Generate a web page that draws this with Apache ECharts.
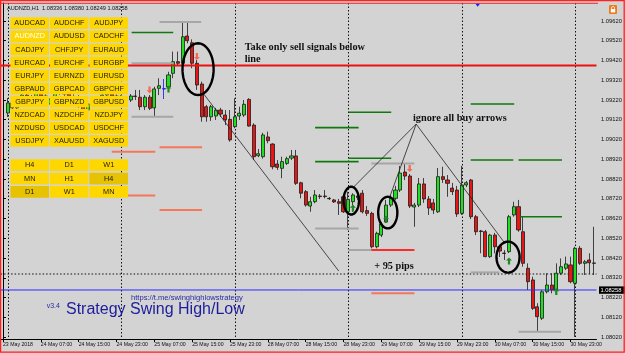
<!DOCTYPE html>
<html><head><meta charset="utf-8">
<script src="https://cdn.jsdelivr.net/npm/echarts@6/dist/echarts.min.js"></script>
<style>html,body{margin:0;padding:0;background:#d3d3d3;overflow:hidden}#chart{width:625px;height:353px}</style>
</head><body><div id="chart"></div>
<script>
// ---------- DATA ----------
const days = ['24','25','28','29','30','31'];
const barsPerDay = [24,24,24,24,24,5];
const categories = ['23 May 2018'];
days.forEach((d,k)=>{ for(let h=0;h<barsPerDay[k];h++) categories.push(d+' May '+String(h).padStart(2,'0')+':00'); });

const xTickLabels = ['23 May 2018','24 May 07:00','24 May 15:00','24 May 23:00','25 May 07:00','25 May 15:00','25 May 23:00',
  '28 May 07:00','28 May 15:00','28 May 23:00','29 May 07:00','29 May 15:00','29 May 23:00','30 May 07:00','30 May 15:00','30 May 23:00'];
const yTicks = [1.0802,1.0812,1.0822,1.0832,1.0842,1.0852,1.0862,1.0872,1.0882,1.0892,1.0902,1.0912,1.0922,1.0932,1.0942,1.0952,1.0962];

const open = [1.09154,1.09205,1.09180,1.09220,1.09245,1.09210,1.09230,1.09260,1.09240,1.09200,
1.09225,1.09255,1.09281,1.09250,1.09220,1.09235,1.09195,1.09169,1.09200,1.09225,
1.09215,1.09245,1.09266,1.09240,1.09210,1.09230,1.09220,1.09240,1.09234,1.09186,
1.09234,1.09180,1.09279,1.09276,1.09287,1.09355,1.09414,1.09406,1.09544,1.09510,
1.09406,1.09301,1.09186,1.09135,1.09139,1.09169,1.09144,1.09122,1.09085,1.09139,
1.09144,1.09223,1.09093,1.08938,1.08933,1.09033,1.08997,1.08896,1.08874,1.08899,
1.08926,1.08937,1.08801,1.08756,1.08683,1.08705,1.08734,1.08734,1.08722,1.08714,
1.08705,1.08730,1.08654,1.08705,1.08734,1.08748,1.08660,1.08646,1.08477,1.08536,
1.08602,1.08688,1.08722,1.08764,1.08855,1.08835,1.08678,1.08688,1.08795,1.08719,
1.08699,1.08654,1.08832,1.08815,1.08774,1.08764,1.08646,1.08790,1.08815,1.08629,
1.08557,1.08553,1.08427,1.08536,1.08477,1.08445,1.08452,1.08638,1.08680,1.08553,
1.08368,1.08309,1.08173,1.08115,1.08249,1.08283,1.08258,1.08343,1.08368,1.08385,
1.08292,1.08469,1.08393,1.08410,1.08395];
const high = [1.09230,1.09220,1.09235,1.09260,1.09255,1.09245,1.09281,1.09276,1.09250,1.09240,
1.09271,1.09301,1.09291,1.09260,1.09250,1.09245,1.09205,1.09215,1.09240,1.09235,
1.09255,1.09281,1.09276,1.09250,1.09245,1.09240,1.09250,1.09271,1.09271,1.09245,
1.09245,1.09287,1.09330,1.09326,1.09363,1.09465,1.09465,1.09611,1.09611,1.09527,
1.09423,1.09313,1.09195,1.09195,1.09180,1.09180,1.09169,1.09169,1.09229,1.09186,
1.09220,1.09229,1.09102,1.08972,1.09054,1.09060,1.09001,1.08916,1.08933,1.08933,
1.08967,1.08967,1.08806,1.08764,1.08730,1.08764,1.08744,1.08764,1.08729,1.08719,
1.08719,1.08739,1.08756,1.08748,1.08754,1.08764,1.08683,1.08654,1.08553,1.08602,
1.08714,1.08739,1.08785,1.08886,1.08899,1.08845,1.08699,1.08825,1.08825,1.08734,
1.08719,1.08876,1.08882,1.08840,1.08800,1.08785,1.08886,1.08810,1.08820,1.08638,
1.08562,1.08562,1.08542,1.08547,1.08486,1.08460,1.08638,1.08705,1.08714,1.08629,
1.08393,1.08325,1.08191,1.08258,1.08343,1.08343,1.08393,1.08418,1.08427,1.08427,
1.08477,1.08481,1.08410,1.08444,1.08578];
const low = [1.09134,1.09159,1.09169,1.09205,1.09190,1.09200,1.09220,1.09225,1.09185,1.09190,
1.09215,1.09245,1.09235,1.09205,1.09210,1.09180,1.09149,1.09159,1.09190,1.09200,
1.09205,1.09235,1.09225,1.09200,1.09195,1.09205,1.09210,1.09220,1.09169,1.09169,
1.09169,1.09135,1.09245,1.09225,1.09271,1.09330,1.09392,1.09397,1.09507,1.09381,
1.09271,1.09110,1.09110,1.09114,1.09119,1.09134,1.09093,1.09009,1.09077,1.09119,
1.09135,1.09085,1.08916,1.08931,1.08923,1.09001,1.08869,1.08866,1.08824,1.08891,
1.08916,1.08790,1.08722,1.08680,1.08654,1.08697,1.08719,1.08722,1.08714,1.08699,
1.08638,1.08648,1.08562,1.08654,1.08714,1.08646,1.08633,1.08469,1.08469,1.08526,
1.08597,1.08678,1.08714,1.08754,1.08815,1.08673,1.08578,1.08678,1.08699,1.08638,
1.08643,1.08648,1.08800,1.08730,1.08739,1.08628,1.08638,1.08779,1.08617,1.08536,
1.08444,1.08424,1.08420,1.08444,1.08425,1.08410,1.08445,1.08629,1.08553,1.08376,
1.08258,1.08157,1.08047,1.08106,1.08241,1.08241,1.08241,1.08334,1.08359,1.08292,
1.08020,1.08385,1.08334,1.08339,1.08334];
const close = [1.09205,1.09180,1.09220,1.09245,1.09210,1.09230,1.09260,1.09240,1.09200,1.09225,
1.09255,1.09281,1.09250,1.09220,1.09235,1.09195,1.09169,1.09200,1.09225,1.09215,
1.09245,1.09266,1.09240,1.09210,1.09230,1.09220,1.09240,1.09238,1.09186,1.09234,
1.09178,1.09276,1.09292,1.09277,1.09347,1.09414,1.09406,1.09540,1.09520,1.09406,
1.09296,1.09135,1.09135,1.09186,1.09169,1.09149,1.09119,1.09018,1.09135,1.09153,
1.09198,1.09088,1.08933,1.08948,1.09043,1.09014,1.08882,1.08879,1.08908,1.08923,
1.08937,1.08798,1.08748,1.08688,1.08705,1.08739,1.08731,1.08731,1.08720,1.08704,
1.08697,1.08654,1.08717,1.08739,1.08726,1.08654,1.08646,1.08477,1.08545,1.08592,
1.08688,1.08722,1.08764,1.08850,1.08835,1.08683,1.08688,1.08795,1.08719,1.08673,
1.08663,1.08832,1.08818,1.08798,1.08756,1.08643,1.08790,1.08801,1.08629,1.08553,
1.08554,1.08427,1.08536,1.08477,1.08455,1.08443,1.08629,1.08680,1.08562,1.08393,
1.08300,1.08165,1.08123,1.08249,1.08283,1.08258,1.08343,1.08376,1.08390,1.08300,
1.08469,1.08393,1.08401,1.08396,1.08393];

// indicator level segments: [startBar, endBar, price]
const greenLevels = [[27.2,36.0,1.09562],[73.1,82.1,1.09158],[66.0,75.2,1.09080],[66.0,75.2,1.08908],[73.1,82.1,1.08925],
  [98.9,108.1,1.09200],[98.9,107.9,1.08916],[109.0,118.2,1.08916],[109.4,118.2,1.08629]];
const salmonLevels = [[23.0,32.2,1.08958],[33.1,42.1,1.08981],[23.0,32.2,1.08737],[33.1,42.1,1.08663],[77.9,87.0,1.08241]];
const redLevels = [[77.9,87.0,1.08460]];
const grayLevels = [[33.1,41.9,1.09615],[27.2,36.0,1.09406],[27.2,36.0,1.09135],[66.0,75.2,1.08570],[77.9,87.0,1.08899],
  [73.1,82.1,1.08460],[98.9,105.0,1.08347],[109.0,118.0,1.08047]];
const daySeparators = [1,25,49,73,97,121];
const sellLinePrice = 1.09395, bluePrice = 1.08258, dottedPrice = 1.08339;
const sellArrows = [[31,1.09271],[41,1.09440],[86,1.08873]];
const buyArrows = [[35,1.09276],[74,1.08673],[81,1.08617],[107,1.08405],[117,1.08250]];
const trendLines = [[42.3,1.09255,71.0,1.08354],[87.37,1.09098,74.17,1.08780],[87.37,1.09098,81.71,1.08724],[87.37,1.09098,106.24,1.08491]];
const ellipses = [[37.96,44.54,1.09507,1.09245],[72.0,75.28,1.08781,1.08640],[79.34,83.39,1.08730,1.08570],[104.35,109.24,1.08503,1.08346]];
const noteTexts = ['Take only sell signals below','line','ignore all buy arrows','+ 95 pips'];
const notes = [[51.1,1.09485,0],[51.1,1.09428,1],[86.68,1.09127,2],[78.5,1.08377,3]];

const symbolButtons = [['AUDCAD','AUDCHF','AUDJPY'],['AUDNZD','AUDUSD','CADCHF'],['CADJPY','CHFJPY','EURAUD'],['EURCAD','EURCHF','EURGBP'],
  ['EURJPY','EURNZD','EURUSD'],['GBPAUD','GBPCAD','GBPCHF'],['GBPJPY','GBPNZD','GBPUSD'],['NZDCAD','NZDCHF','NZDJPY'],
  ['NZDUSD','USDCAD','USDCHF'],['USDJPY','XAUUSD','XAGUSD']];
const tfButtons = [['H4','D1','W1'],['MN','H1','H4'],['D1','W1','MN']];

// ---------- LAYOUT ----------
const W = 4.767;
const nCat = categories.length;
const gridLeft = 3 - 1.5*W;
const YMIN = 1.080099, YMAX = 1.097111;

const candleData = categories.map((c,j)=> j===0 ? ['-','-','-','-'] : [open[j-1],close[j-1],low[j-1],high[j-1]]);
candleData[34] = {value:candleData[34], itemStyle:{color:'#1010ff',color0:'#1010ff',borderColor:'#1010ff',borderColor0:'#1010ff'}};

const tickSet = new Set(xTickLabels);
const tickFn = (idx,val)=>tickSet.has(val);

function segSeries(data,color,width,z){
  return {type:'custom',xAxisIndex:1,z:z,silent:true,data:data,encode:{x:[0,1],y:2},
    renderItem:(p,api)=>{const a=api.coord([api.value(0),api.value(2)]),b=api.coord([api.value(1),api.value(2)]);
      return {type:'line',shape:{x1:a[0],y1:a[1],x2:b[0],y2:b[1]},style:{stroke:color,lineWidth:width}};}};
}
function hLineSeries(price,style,z,label){
  return {type:'custom',xAxisIndex:1,z:z,silent:true,data:[[0,price]],encode:{x:0,y:1},
    renderItem:(p,api)=>{const cs=p.coordSys;const y=api.coord([0,api.value(1)])[1];
      const kids=[{type:'line',shape:{x1:cs.x,y1:y,x2:cs.x+cs.width,y2:y},style:style}];
      if(label){kids.push({type:'rect',shape:{x:cs.x+cs.width+2.5,y:y-3.6,width:26,height:7.4},style:{fill:'#000'}});
        kids.push({type:'text',x:cs.x+cs.width+4,y:y,style:{text:label,fill:'#fff',font:'5.8px "Liberation Sans"',align:'left',verticalAlign:'middle'}});}
      return {type:'group',children:kids};}};
}

const option = {
  backgroundColor:'#d3d3d3',
  animation:false,
  grid:{left:gridLeft,top:3,width:nCat*W,height:336},
  xAxis:[{type:'category',data:categories,boundaryGap:true,
      axisLine:{lineStyle:{color:'#000',width:1}},
      axisTick:{show:true,interval:tickFn,alignWithLabel:true,length:3,lineStyle:{color:'#000'}},
      axisLabel:{interval:tickFn,align:'left',margin:3,fontSize:5.2,color:'#111',fontFamily:'"Liberation Sans Narrow","Liberation Sans",sans-serif'},
      splitLine:{show:false}},
    {type:'value',min:-0.5,max:nCat-0.5,show:false}],
  yAxis:{type:'value',position:'right',offset:1.5,min:YMIN,max:YMAX,scale:true,
    axisLine:{show:true,lineStyle:{color:'#000'}},
    axisTick:{show:true,length:3,customValues:yTicks,lineStyle:{color:'#000'}},
    axisLabel:{customValues:yTicks,formatter:v=>v.toFixed(5),margin:3,fontSize:5.8,color:'#111',fontFamily:'"Liberation Sans",sans-serif'},
    splitLine:{show:false}},
  series:[
    {type:'custom',xAxisIndex:1,z:1,silent:true,data:daySeparators.map(d=>[d]),encode:{x:0},
      renderItem:(p,api)=>{const cs=p.coordSys;const x=Math.round(api.coord([api.value(0),YMIN])[0])+0.5;
        return {type:'line',shape:{x1:x,y1:cs.y,x2:x,y2:cs.y+cs.height},style:{stroke:'#111',lineWidth:1,lineDash:[1.5,2]}};}},
    hLineSeries(dottedPrice,{stroke:'#111',lineWidth:1,lineDash:[1.5,2]},1),
    {type:'candlestick',z:3,data:candleData,barWidth:3.6,
      itemStyle:{color:'#1fe01f',color0:'#e81515',borderColor:'#1a1a1a',borderColor0:'#1a1a1a',borderWidth:0.8}},
    segSeries(grayLevels,'#a6a6a6',2,4),
    segSeries(greenLevels,'#0d7a0d',1.6,4),
    segSeries(salmonLevels,'#f4775a',2,4),
    segSeries(redLevels,'#ff2a2a',2,4),
    hLineSeries(sellLinePrice,{stroke:'#ee1111',lineWidth:2},5),
    hLineSeries(bluePrice,{stroke:'#2a2aff',lineWidth:1},5,'1.08258'),
    {type:'custom',xAxisIndex:1,z:6,silent:true,data:trendLines,encode:{x:[0,2],y:[1,3]},
      renderItem:(p,api)=>{const a=api.coord([api.value(0),api.value(1)]),b=api.coord([api.value(2),api.value(3)]);
        return {type:'line',shape:{x1:a[0],y1:a[1],x2:b[0],y2:b[1]},style:{stroke:'#222',lineWidth:0.8}};}},
    {type:'custom',xAxisIndex:1,z:7,silent:true,data:ellipses,encode:{x:[0,1],y:[2,3]},
      renderItem:(p,api)=>{const a=api.coord([api.value(0),api.value(2)]),b=api.coord([api.value(1),api.value(3)]);
        const cx=(a[0]+b[0])/2,cy=(a[1]+b[1])/2,rx=Math.abs(b[0]-a[0])/2,ry=Math.abs(b[1]-a[1])/2;const pts=[];
        for(let k=0;k<60;k++){const t=k/60*2*Math.PI;pts.push([cx+rx*Math.cos(t),cy+ry*Math.sin(t)]);}
        return {type:'polygon',shape:{points:pts},style:{fill:'none',stroke:'#000',lineWidth:2.4}};}},
    {type:'scatter',xAxisIndex:1,z:7,silent:true,data:buyArrows,symbol:'path://M4,0 L8,4 L5.5,4 L5.5,9 L2.5,9 L2.5,4 L0,4 Z',symbolSize:[6,7],
      itemStyle:{color:'#1c8c1c',opacity:1}},
    {type:'scatter',xAxisIndex:1,z:7,silent:true,data:sellArrows,symbol:'path://M4,0 L8,4 L5.5,4 L5.5,9 L2.5,9 L2.5,4 L0,4 Z',symbolSize:[6,7],symbolRotate:180,
      itemStyle:{color:'#f46a55',opacity:1}},
    {type:'custom',xAxisIndex:1,z:8,silent:true,data:notes,encode:{x:0,y:1},
      renderItem:(p,api)=>{const pt=api.coord([api.value(0),api.value(1)]);
        return {type:'text',x:pt[0],y:pt[1],style:{text:noteTexts[api.value(2)],fill:'#111',font:'bold 10.3px "Liberation Serif",serif',align:'left',verticalAlign:'middle'}};}}
  ],
  graphic:[]
};

// UI overlay (buttons, labels, frame)
const g = option.graphic;
const colX = [10.5,50,89.5];
function btn(x,y,txt,fill,col){
  g.push({type:'rect',z:100,shape:{x:x,y:y,width:38.5,height:11.8},style:{fill:fill}});
  g.push({type:'text',z:101,x:x+19.25,y:y+6.1,style:{text:txt,fill:col,font:'7.3px "Liberation Sans",sans-serif',align:'center',verticalAlign:'middle'}});
}
symbolButtons.forEach((row,r)=>row.forEach((t,c)=>btn(colX[c],17.3+r*13.08,t,'#ffd700',t==='AUDNZD'?'#ffffff':'#1a1a1a')));
tfButtons.forEach((row,r)=>row.forEach((t,c)=>{const pressed=(r===1&&c===2)||(r===2&&c===0);
  btn(colX[c],159.3+r*13.35,t,pressed?'#e6c200':'#ffd700','#1a1a1a');}));
g.push({type:'text',z:100,x:7,y:8.4,style:{text:'AUDNZD,H1  1.08336 1.08380 1.08249 1.08258',fill:'#111',font:'5.6px "Liberation Sans",sans-serif',align:'left',verticalAlign:'middle'}});
g.push({type:'text',z:100,x:131,y:297.5,style:{text:'https://t.me/swinghighlowstrategy',fill:'#2a2aa8',font:'7.6px "Liberation Sans",sans-serif',align:'left',verticalAlign:'middle'}});
g.push({type:'text',z:100,x:46.7,y:306.3,style:{text:'v3.4',fill:'#2a2aa8',font:'7px "Liberation Sans",sans-serif',align:'left',verticalAlign:'middle'}});
g.push({type:'text',z:100,x:66,y:310,style:{text:'Strategy Swing High/Low',fill:'#1c1c9c',font:'16px "Liberation Sans",sans-serif',align:'left',verticalAlign:'middle'}});
g.push({type:'polygon',z:100,shape:{points:[[475.3,3.6],[480.1,3.6],[477.7,6.8]]},style:{fill:'#1a1aff'}});
g.push({type:'rect',z:100,shape:{x:609,y:5,width:8,height:9,r:1},style:{fill:'#f07a1a'}});
g.push({type:'rect',z:101,shape:{x:610.8,y:9,width:4.4,height:3.4},style:{fill:'#fff'}});
g.push({type:'rect',z:101,shape:{x:611.5,y:6.6,width:3,height:3,r:1.2},style:{fill:'none',stroke:'#fff',lineWidth:0.8}});
g.push({type:'line',z:100,shape:{x1:0,y1:3.3,x2:598,y2:3.3},style:{stroke:'#ff2020',lineWidth:1}});
g.push({type:'rect',z:102,shape:{x:0.6,y:0.6,width:623.6,height:351.6},style:{fill:'none',stroke:'#ff2020',lineWidth:1.3}});

const chart = echarts.init(document.getElementById('chart'),null,{renderer:'canvas'});
chart.setOption(option);
</script></body></html>
